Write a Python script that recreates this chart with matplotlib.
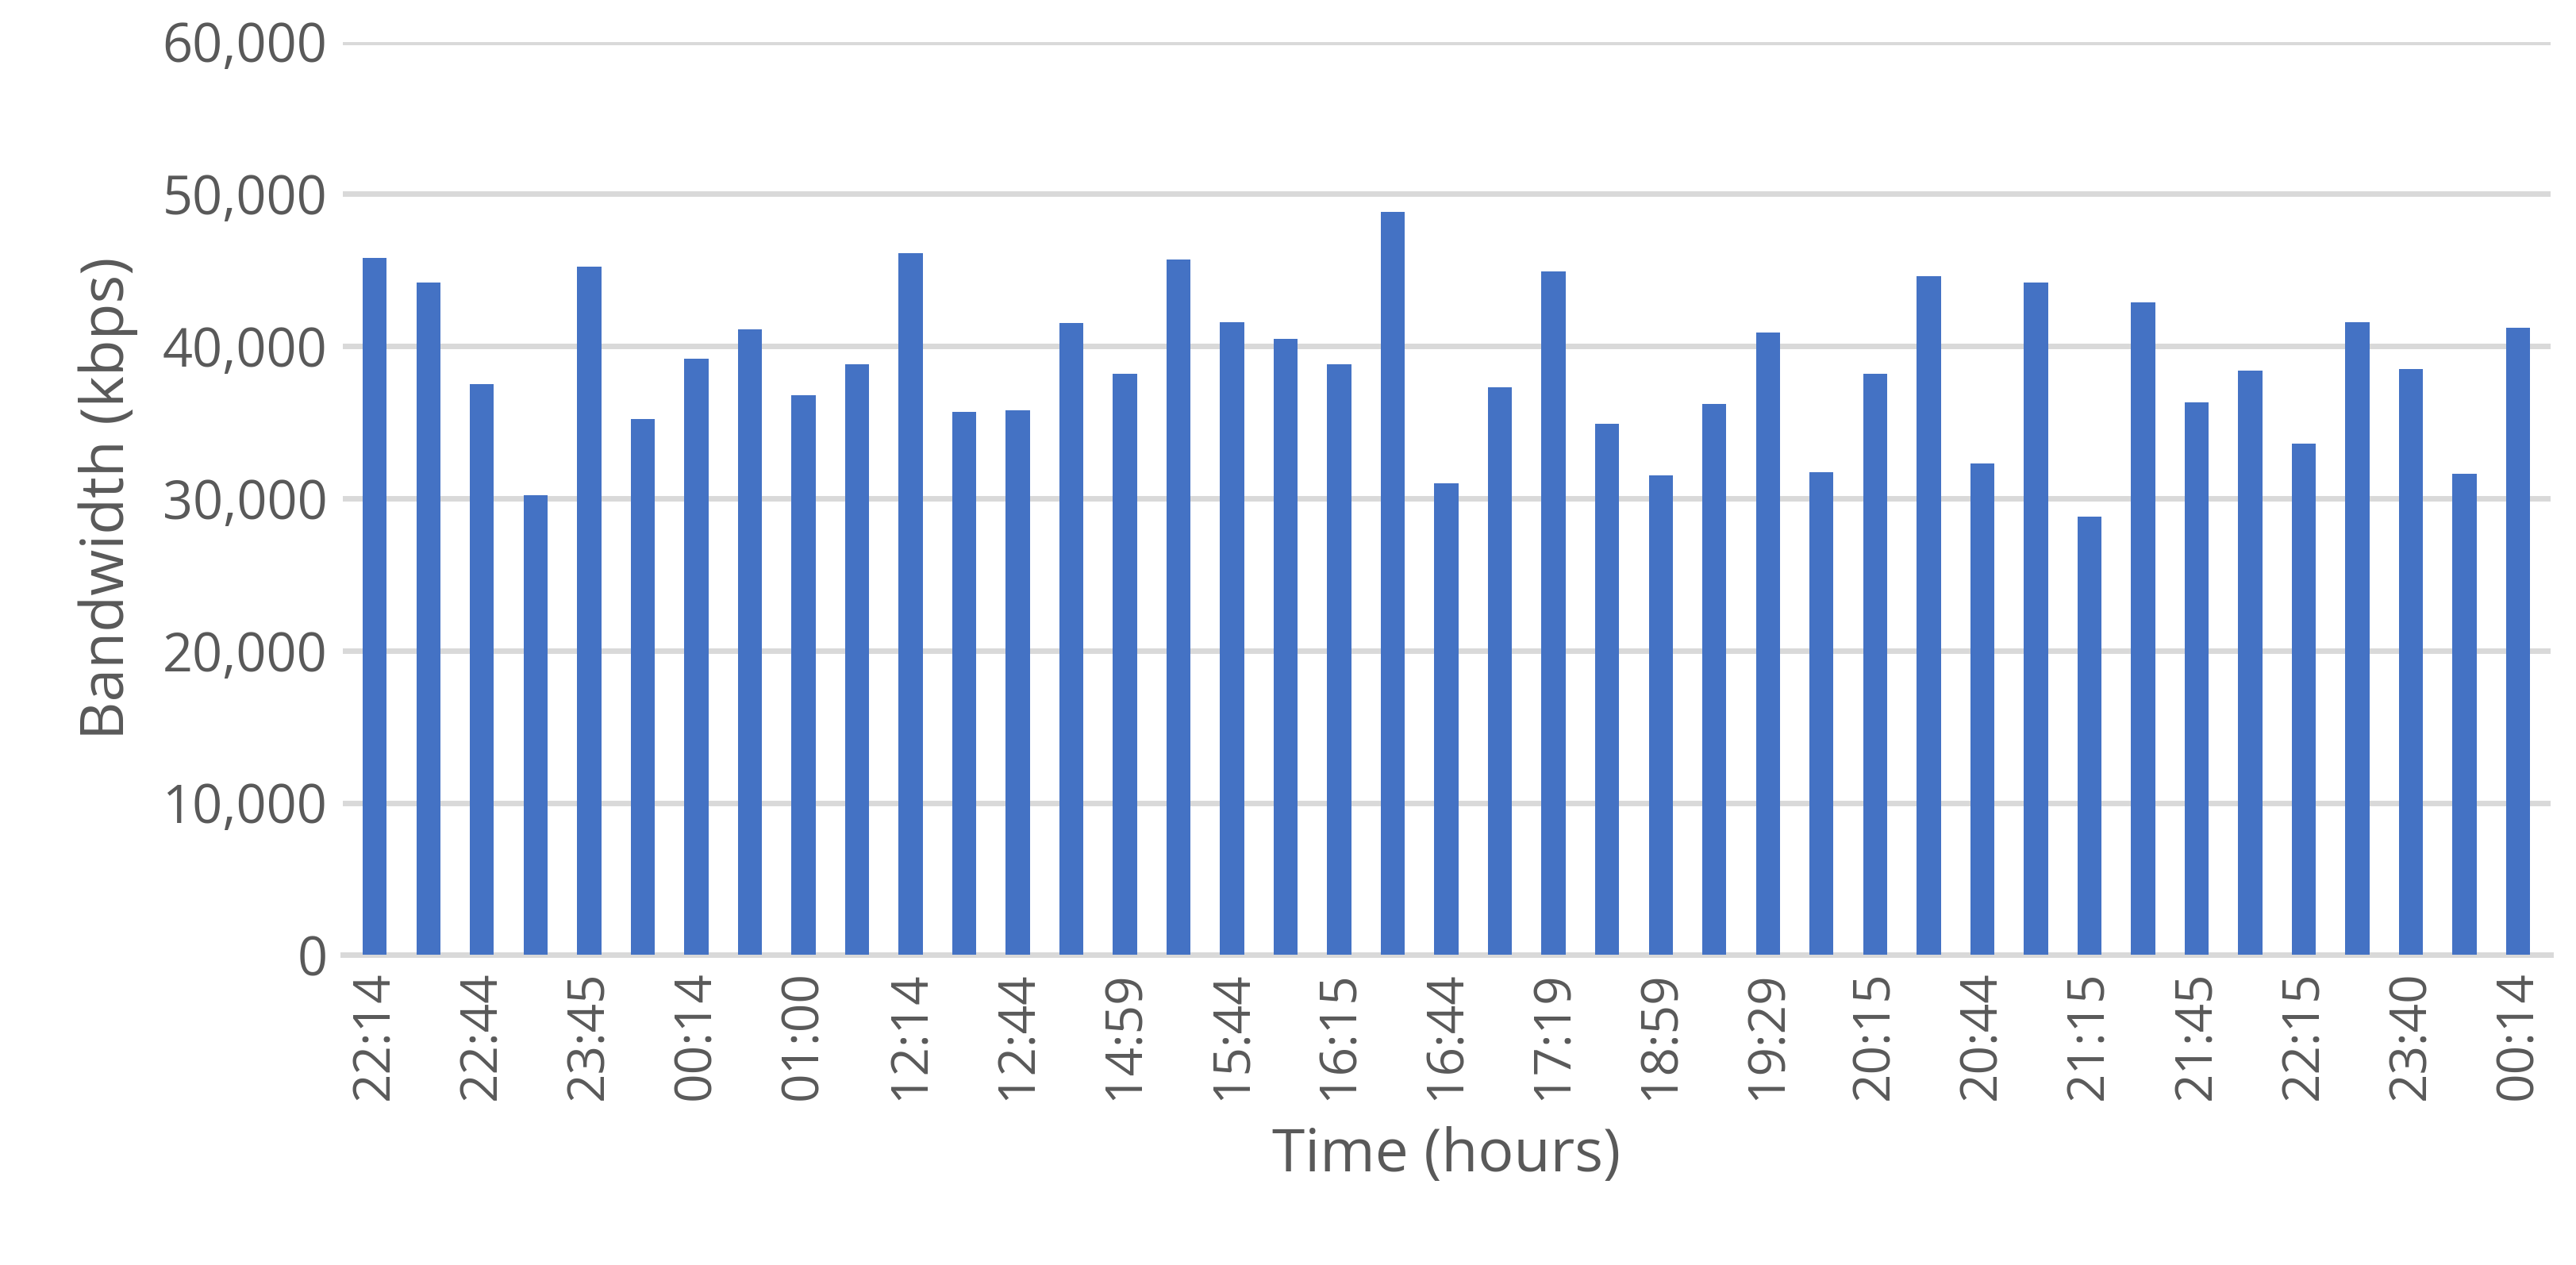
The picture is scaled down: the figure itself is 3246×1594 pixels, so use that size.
import matplotlib
matplotlib.use("Agg")
import matplotlib.pyplot as plt

# bandwidth samples, one bar per sample; every other one is labelled
bandwidth = [45800, 44200, 37500, 30200, 45200, 35200, 39200, 41100, 36800, 38800,
             46100, 35700, 35800, 41500, 38200, 45700, 41600, 40500, 38800, 48800,
             31000, 37300, 44900, 34900, 31500, 36200, 40900, 31700, 38200, 44600,
             32300, 44200, 28800, 42900, 36300, 38400, 33600, 41600, 38500, 31600,
             41200]
shown_labels = ["22:14", "22:44", "23:45", "00:14", "01:00", "12:14", "12:44", "14:59",
                "15:44", "16:15", "16:44", "17:19", "18:59", "19:29", "20:15", "20:44",
                "21:15", "21:45", "22:15", "23:40", "00:14"]
yticks = [0, 10000, 20000, 30000, 40000, 50000, 60000]

labels = []
for i in range(len(bandwidth)):
    labels.append(shown_labels[i // 2] if i % 2 == 0 else "")

plt.rcParams['font.family'] = ['Open Sans', 'DejaVu Sans']
grey = '#595959'

fig = plt.figure(figsize=(32.46, 15.94), dpi=100)
ax = fig.add_axes([0.133, 0.245, 0.857, 0.722])
x = list(range(len(bandwidth)))
ax.bar(x, bandwidth, width=0.45, color='#4472C4', zorder=3)
ax.set_xlim(-0.6, len(bandwidth) - 0.4)
ax.set_ylim(0, 60000)
ax.set_yticks(yticks)
ax.set_yticklabels([f"{v:,}" for v in yticks], fontsize=48, color=grey)
ax.set_xticks(x)
ax.set_xticklabels(labels, rotation=90, fontsize=46, color=grey)
ax.grid(axis='y', color='#D9D9D9', linewidth=5, zorder=0)
for s in ['top', 'right', 'left']:
    ax.spines[s].set_visible(False)
ax.spines['bottom'].set_color('#D9D9D9')
ax.spines['bottom'].set_linewidth(5)
ax.tick_params(length=0, pad=14)
ax.set_ylabel("Bandwidth (kbps)", fontsize=54, color=grey, labelpad=22)
ax.set_xlabel("Time (hours)", fontsize=54, color=grey, labelpad=24)

fig.savefig("out.png", dpi=100)
